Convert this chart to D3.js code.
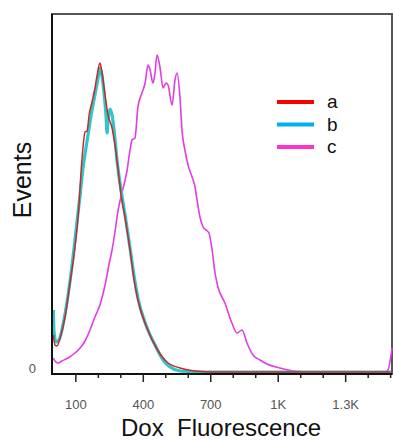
<!DOCTYPE html>
<html>
<head>
<meta charset="utf-8">
<script src="https://cdn.jsdelivr.net/npm/d3@7"></script>
<style>
  body { margin: 0; background: #fff; }
</style>
</head>
<body>
<script>
// series: fluorescence value / event count
var redX = [0, 7, 16, 30, 52, 74, 92, 110, 127, 141, 150, 159, 172, 185, 194, 207, 216, 230, 243, 261, 274, 288, 301, 319, 341, 359, 376, 416, 461, 505, 563, 630, 719, 900, 1200, 1500];
var redY = [38, 28, 27, 35, 56, 90, 118, 156, 213, 241, 242, 258, 271, 285, 297, 310, 301, 278, 258, 245, 228, 203, 178, 155, 123, 93, 73, 45, 24, 11, 5, 2, 1, 1, 1, 1];

var cyanX = [0, 3, 12, 25, 47, 70, 87, 105, 119, 132, 145, 159, 172, 185, 199, 207, 216, 225, 234, 239, 243, 252, 261, 270, 283, 301, 319, 341, 359, 376, 412, 452, 488, 519, 563, 652, 900, 1200, 1500];
var cyanY = [63, 41, 31, 33, 53, 85, 115, 151, 178, 205, 225, 245, 263, 278, 295, 305, 298, 281, 258, 240, 252, 264, 258, 243, 213, 183, 158, 125, 97, 75, 48, 28, 13, 6, 2, 1, 1, 1, 1];

var magX = [0, 7, 21, 38, 65, 96, 119, 141, 163, 185, 207, 230, 247, 261, 274, 288, 305, 319, 328, 341, 350, 363, 376, 394, 408, 421, 430, 443, 452, 461, 474, 488, 501, 510, 528, 541, 550, 563, 572, 585, 599, 617, 630, 639, 652, 666, 692, 706, 719, 732, 763, 794, 817, 839, 861, 888, 919, 950, 1008, 1066, 1141, 1475, 1488, 1506];
var magY = [15, 12, 10, 12, 15, 20, 25, 32, 43, 56, 68, 88, 108, 123, 141, 163, 180, 193, 203, 223, 233, 235, 266, 280, 290, 308, 303, 290, 300, 318, 306, 285, 290, 288, 268, 293, 300, 276, 243, 223, 208, 196, 186, 173, 156, 146, 140, 123, 100, 86, 70, 50, 40, 43, 30, 18, 13, 9, 5, 2, 1, 1, 3, 25];

var xTickValues = [100, 400, 700, 1000, 1300];
var xTickLabels = ["100", "400", "700", "1K", "1.3K"];
var xMinorTicks = [200, 300, 500, 600, 800, 900, 1100, 1200, 1400, 1500];

var legendNames = ["a", "b", "c"];
var legendColors = ["#ff0000", "#00b0f0", "#ff33cc"];

var W = 393, H = 442;
var svg = d3.select("body").append("svg")
    .attr("width", W)
    .attr("height", H)

var x = d3.scaleLinear().domain([-6, 1506]).range([52, 392])
var y = d3.scaleLinear().domain([0, 360]).range([373, 13])

// frame
svg.append("rect")
    .attr("x", 52)
    .attr("y", 14)
    .attr("width", 340)
    .attr("height", 360)
    .attr("fill", "none")
    .attr("stroke", "#555")
    .attr("stroke-width", 2)

var line = d3.line()
    .x(function(d){ return x(d[0]); })
    .y(function(d){ return y(d[1]); })
    .curve(d3.curveMonotoneX)

function pairs(xs, ys){ return xs.map(function(v, i){ return [v, ys[i]]; }); }

svg.append("path")
    .attr("d", line(pairs(magX, magY)))
    .attr("fill", "none")
    .attr("stroke", "#e03ee0")
    .attr("stroke-width", 1.6)
svg.append("path")
    .attr("d", line(pairs(cyanX, cyanY)))
    .attr("fill", "none")
    .attr("stroke", "#2ec6c6")
    .attr("stroke-width", 3.2)
svg.append("path")
    .attr("d", line(pairs(redX, redY)))
    .attr("fill", "none")
    .attr("stroke", "#c8282c")
    .attr("stroke-width", 1.5)

// axes
svg.append("line")
    .attr("x1", 52).attr("x2", 392)
    .attr("y1", 374).attr("y2", 374)
    .attr("stroke", "#111").attr("stroke-width", 2)
svg.append("line")
    .attr("x1", 52).attr("x2", 52)
    .attr("y1", 14).attr("y2", 375)
    .attr("stroke", "#111").attr("stroke-width", 2)

svg.selectAll(".major").data(xTickValues).enter().append("line")
    .attr("x1", function(d){ return x(d); })
    .attr("x2", function(d){ return x(d); })
    .attr("y1", 374).attr("y2", 382)
    .attr("stroke", "#222").attr("stroke-width", 1.5)
svg.selectAll(".minor").data(xMinorTicks).enter().append("line")
    .attr("x1", function(d){ return x(d); })
    .attr("x2", function(d){ return x(d); })
    .attr("y1", 374).attr("y2", 378)
    .attr("stroke", "#222").attr("stroke-width", 1.5)
svg.selectAll(".tlab").data(xTickValues).enter().append("text")
    .attr("x", function(d){ return x(d); })
    .attr("y", 409)
    .attr("text-anchor", "middle")
    .attr("font-family", "Liberation Sans, Arial, sans-serif")
    .attr("font-size", 13)
    .attr("fill", "#555")
    .text(function(d, i){ return xTickLabels[i]; })

svg.append("text")
    .attr("x", 36).attr("y", 373)
    .attr("text-anchor", "end")
    .attr("font-family", "Liberation Sans, Arial, sans-serif")
    .attr("font-size", 13)
    .attr("fill", "#555")
    .text("0")

// titles
svg.append("text")
    .attr("transform", "translate(31,180) rotate(-90)")
    .attr("text-anchor", "middle")
    .attr("font-family", "Liberation Sans, Arial, sans-serif")
    .attr("font-size", 25)
    .attr("fill", "#111")
    .text("Events")
svg.append("text")
    .attr("x", 221).attr("y", 436)
    .attr("text-anchor", "middle")
    .attr("font-family", "Liberation Sans, Arial, sans-serif")
    .attr("font-size", 24)
    .attr("fill", "#111")
    .style("white-space", "pre")
    .text("Dox  Fluorescence")

// legend
var leg = svg.selectAll(".leg").data(legendNames).enter().append("g")
    .attr("transform", function(d, i){ return "translate(277," + (102 + i * 22.5) + ")"; })
leg.append("line")
    .attr("x1", 0).attr("x2", 37)
    .attr("stroke", function(d, i){ return legendColors[i]; })
    .attr("stroke-width", 4)
leg.append("text")
    .attr("x", 50).attr("y", 0)
    .attr("dy", "0.32em")
    .attr("font-family", "Liberation Sans, Arial, sans-serif")
    .attr("font-size", 19)
    .attr("fill", "#111")
    .text(function(d){ return d; })
</script>
</body>
</html>
